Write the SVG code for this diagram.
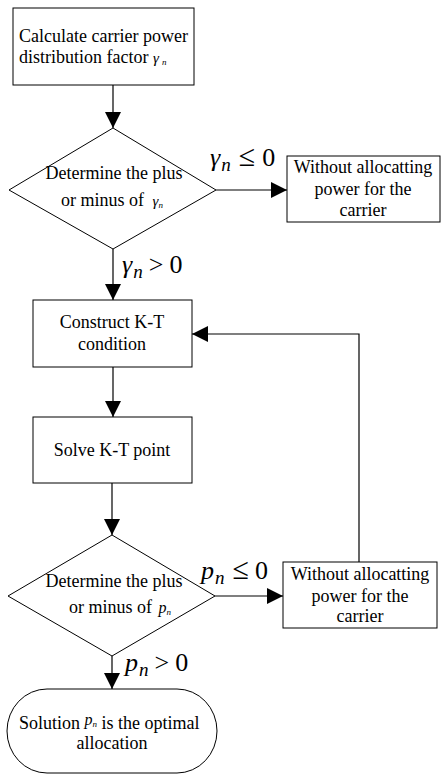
<svg xmlns="http://www.w3.org/2000/svg" width="441" height="774" viewBox="0 0 441 774" font-family="Liberation Serif, Tinos, Times New Roman, Times, Noto Serif, DejaVu Serif, FreeSerif, serif">
<style>
.n{fill:#fff;stroke:#000;stroke-width:1}
.c{fill:none;stroke:#000;stroke-width:1.2}
text{fill:#000}
.t{font-size:18px}
.m{font-size:26px}
.s{font-size:19px;font-style:italic}
.i{font-style:italic}
</style>
<defs>
<marker id="ah" markerUnits="userSpaceOnUse" markerWidth="17" markerHeight="17" refX="16" refY="8" orient="auto">
<path d="M0,0 L16,8 L0,16 z" fill="#000"/>
</marker>
</defs>
<rect width="441" height="774" fill="#fff"/>
<g id="connectors">
<path class="c" d="M113,85 V128" marker-end="url(#ah)"/>
<path class="c" d="M216,190 H287" marker-end="url(#ah)"/>
<path class="c" d="M113,249 V300" marker-end="url(#ah)"/>
<path class="c" d="M113,367 V417" marker-end="url(#ah)"/>
<path class="c" d="M112,483 V535" marker-end="url(#ah)"/>
<path class="c" d="M215,596 H283" marker-end="url(#ah)"/>
<path class="c" d="M359,562 V334 H192" marker-end="url(#ah)"/>
<path class="c" d="M112,656 V689" marker-end="url(#ah)"/>
<text class="m" x="210" y="166"><tspan class="i">γ</tspan><tspan class="s" dx="1" dy="5">n</tspan><tspan dx="8" dy="-5" font-size="30">≤</tspan><tspan dx="7">0</tspan></text>
<text class="m" x="122" y="273"><tspan class="i">γ</tspan><tspan class="s" dx="1" dy="5">n</tspan><tspan dx="6" dy="-5">&gt;</tspan><tspan dx="6">0</tspan></text>
<text class="m" x="201" y="579"><tspan class="i">p</tspan><tspan class="s" dx="1" dy="5">n</tspan><tspan dx="8" dy="-5" font-size="30">≤</tspan><tspan dx="6">0</tspan></text>
<text class="m" x="125" y="671"><tspan class="i">p</tspan><tspan class="s" dx="1" dy="5">n</tspan><tspan dx="6" dy="-5">&gt;</tspan><tspan dx="6">0</tspan></text>
</g>
<g id="calc">
<rect class="n" x="13" y="8" width="181" height="77"/>
<text class="t" x="19" y="42">Calculate carrier power</text>
<text class="t" x="19" y="63">distribution factor <tspan class="i" font-size="15">γ</tspan><tspan class="i" font-size="9" dx="3" dy="2">n</tspan></text>
</g>
<g id="decide1">
<polygon class="n" points="113,128 216,190 113,249 9,190"/>
<text class="t" x="114" y="179" text-anchor="middle">Determine the plus</text>
<text class="t" x="61" y="206">or minus of <tspan class="i" font-size="15" dx="4">γ</tspan><tspan class="i" font-size="9" dy="2">n</tspan></text>
</g>
<g id="noalloc1">
<rect class="n" x="287" y="156" width="153" height="66"/>
<text class="t" x="363" y="173" text-anchor="middle">Without allocatting</text>
<text class="t" x="363" y="195" text-anchor="middle">power for the</text>
<text class="t" x="363" y="216" text-anchor="middle">carrier</text>
</g>
<g id="construct">
<rect class="n" x="33" y="300" width="159" height="67"/>
<text class="t" x="112" y="328" text-anchor="middle">Construct K-T</text>
<text class="t" x="112" y="350" text-anchor="middle">condition</text>
</g>
<g id="solve">
<rect class="n" x="33" y="417" width="159" height="66"/>
<text class="t" x="112" y="456" text-anchor="middle">Solve K-T point</text>
</g>
<g id="decide2">
<polygon class="n" points="112,535 215,596 112,656 8,596"/>
<text class="t" x="114" y="587" text-anchor="middle">Determine the plus</text>
<text class="t" x="69" y="613">or minus of <tspan class="i" font-size="16" dx="2">p</tspan><tspan class="i" font-size="9" dy="2">n</tspan></text>
</g>
<g id="noalloc2">
<rect class="n" x="283" y="562" width="154" height="66"/>
<text class="t" x="360" y="580" text-anchor="middle">Without allocatting</text>
<text class="t" x="360" y="602" text-anchor="middle">power for the</text>
<text class="t" x="360" y="622" text-anchor="middle">carrier</text>
</g>
<g id="solution">
<rect class="n" x="7" y="689" width="210" height="84" rx="40" ry="42"/>
<text class="t" x="19" y="729">Solution <tspan class="i" font-size="16" dy="-4">p</tspan><tspan class="i" font-size="9" dy="2">n</tspan><tspan dy="2"> is the optimal</tspan></text>
<text class="t" x="112" y="749" text-anchor="middle">allocation</text>
</g>
</svg>
